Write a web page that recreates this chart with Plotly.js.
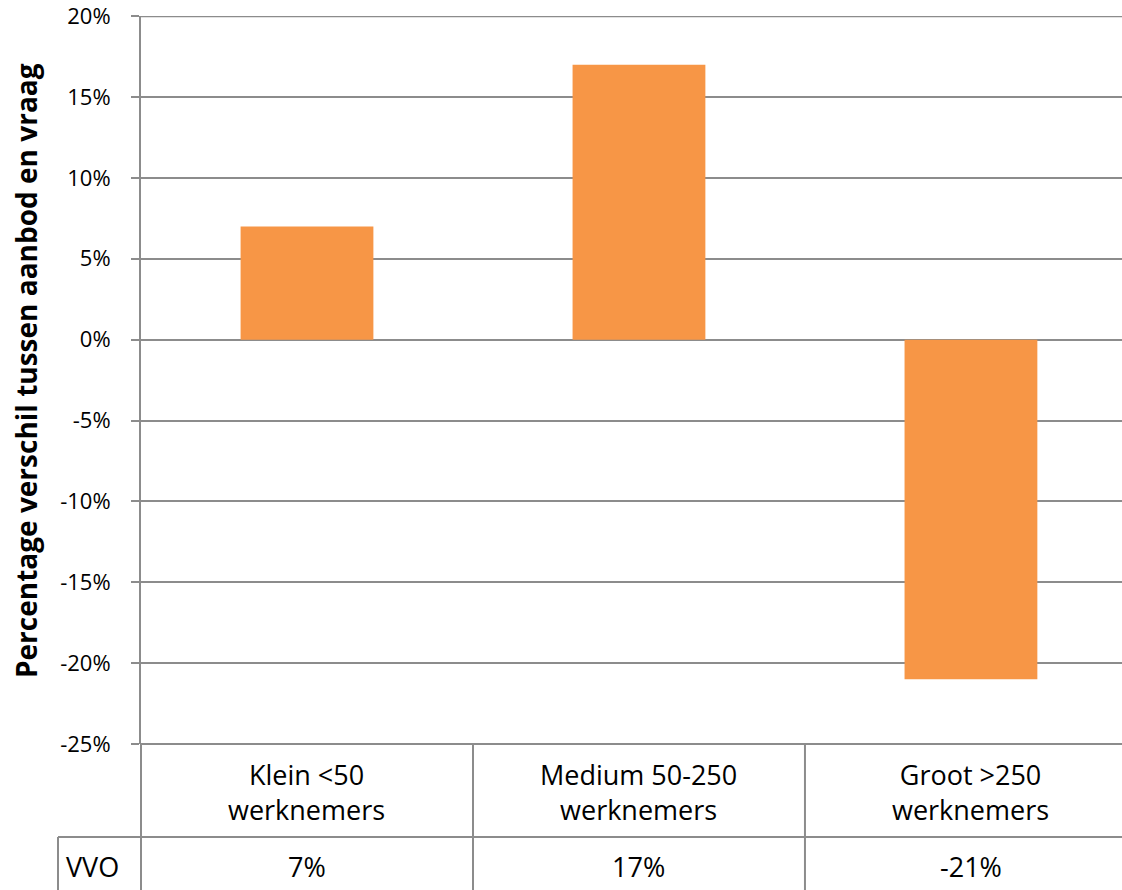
<!DOCTYPE html>
<html>
<head>
<meta charset="utf-8">
<script src="https://cdn.plot.ly/plotly-3.0.1.min.js"></script>
<style>body{margin:0;padding:0;background:#fff}</style>
</head>
<body>
<div id="chart" style="width:1122px;height:890px"></div>
<script>
const categories = ["Klein <50 werknemers", "Medium 50-250 werknemers", "Groot >250 werknemers"];
const labelLine1 = ["Klein <50", "Medium 50-250", "Groot >250"];
const labelLine2 = ["werknemers", "werknemers", "werknemers"];
const seriesName = "VVO";
const values = [7, 17, -21];
const tickValues = [20, 15, 10, 5, 0, -5, -10, -15, -20, -25];
const yTitle = "Percentage verschil tussen aanbod en vraag";

const W = 1122, H = 890;
const mL = 141, mT = 16, mB = 146, mR = 0;
const plotW = W - mL - mR, plotH = H - mT - mB;
const px2paperY = py => (H - mB - py) / plotH;
const px2paperX = px => (px - mL) / plotW;
const grid = '#8c8c8c';
const font = '"Open Sans", "Noto Sans", sans-serif';

const shapes = [];
const line = (x0, y0, x1, y1, xref, yref) => shapes.push({type:'line', xref: xref || 'paper', yref: yref || 'paper', x0, y0, x1, y1, line:{color:grid, width:2}, layer:'below'});
// top gridline at the highest tick
line(0, tickValues[0], 1, tickValues[0], 'paper', 'y');
// bottom edge of plot / top of table
line(0, 0, 1, 0);
// axis line continuing through table
line(0, 0, 0, px2paperY(H));
// category dividers
for (let i = 0; i < categories.length - 1; i++) line(i + 0.5, 0, i + 0.5, px2paperY(H), 'x');
// row divider
line(px2paperX(58), px2paperY(837), 1, px2paperY(837));
// left border of value row
line(px2paperX(58), px2paperY(837), px2paperX(58), px2paperY(H));

const annotations = [];
categories.forEach((c, i) => {
  annotations.push({xref:'x', yref:'paper', x:c, y:px2paperY(792), text:labelLine1[i] + '<br>' + labelLine2[i], showarrow:false, xanchor:'center', yanchor:'middle', align:'center', font:{family:font, size:27, color:'#000'}});
  annotations.push({xref:'x', yref:'paper', x:c, y:px2paperY(866), text:values[i] + '%', showarrow:false, xanchor:'center', yanchor:'middle', font:{family:font, size:27, color:'#000'}});
});
annotations.push({xref:'paper', yref:'paper', x:px2paperX(64), y:px2paperY(866), text:seriesName, showarrow:false, xanchor:'left', yanchor:'middle', font:{family:font, size:27, color:'#000'}});
annotations.push({xref:'paper', yref:'paper', x:px2paperX(26), y:px2paperY(371), text:'<b>' + yTitle + '</b>', textangle:-90, showarrow:false, xanchor:'center', yanchor:'middle', font:{family:font, size:28, color:'#000'}});

const data = [{
  type:'bar', x:categories, y:values, name:seriesName,
  marker:{color:'#F79646', line:{width:0}}, hoverinfo:'none'
}];

const layout = {
  width:W, height:H,
  margin:{l:mL, r:mR, t:mT, b:mB, pad:0},
  paper_bgcolor:'#fff', plot_bgcolor:'#fff',
  showlegend:false,
  bargap:0.6,
  font:{family:font, color:'#000'},
  xaxis:{type:'category', range:[-0.5, 2.455], showticklabels:false, showgrid:false, zeroline:false, showline:false, ticks:''},
  yaxis:{range:[-25, 20.01], tickvals:tickValues, ticktext:tickValues.map(v => v + '%'),
    showgrid:true, gridcolor:grid, gridwidth:2, zeroline:true, zerolinecolor:grid, zerolinewidth:2,
    showline:true, linecolor:grid, linewidth:2, ticks:'outside', ticklen:8, tickwidth:2, tickcolor:grid,
    ticklabelstandoff:16, ticklabeloverflow:'allow', tickfont:{family:font, size:22, color:'#000'}},
  shapes, annotations
};
Plotly.newPlot('chart', data, layout, {staticPlot:true, displayModeBar:false});
</script>
</body>
</html>
